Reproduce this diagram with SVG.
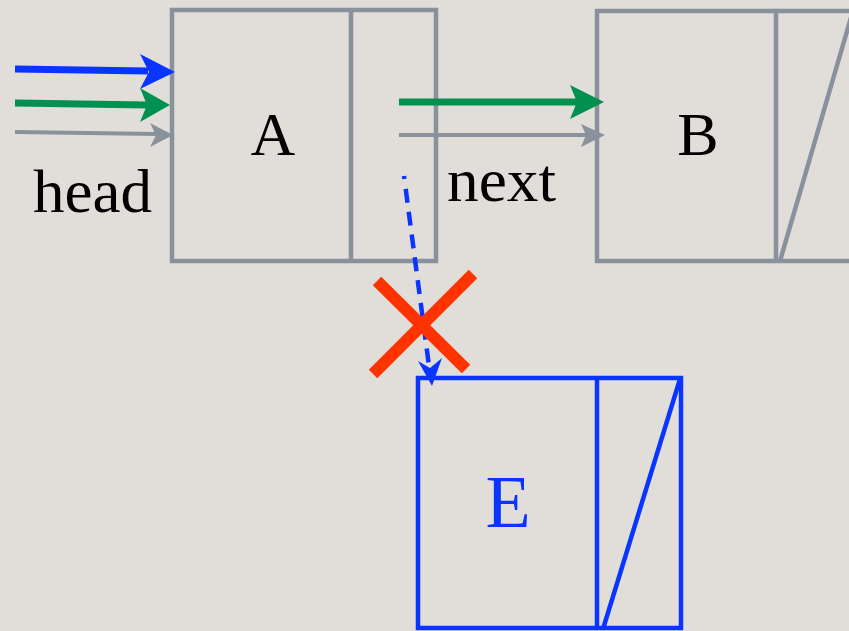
<svg xmlns="http://www.w3.org/2000/svg" width="849" height="631" viewBox="0 0 849 631">
<style>
.gbox{fill:none;stroke:#89919d;stroke-width:4.5}
.bbox{fill:none;stroke:#0a34ff;stroke-width:4.5}
.lbl{font-family:"Liberation Serif","Times New Roman",serif;fill:#000}
</style>
<rect width="849" height="631" fill="#e1ded9"/>
<g id="nodeA">
<rect class="gbox" x="172" y="10" width="264" height="251"/>
<line class="gbox" x1="351" y1="10" x2="351" y2="261"/>
<text class="lbl" x="273" y="155" font-size="62" text-anchor="middle">A</text>
</g>
<g id="nodeB">
<rect class="gbox" x="597" y="11" width="260" height="250"/>
<line class="gbox" x1="776" y1="11" x2="776" y2="261"/>
<line class="gbox" x1="780" y1="261" x2="852" y2="14"/>
<text class="lbl" x="698" y="155" font-size="62" text-anchor="middle">B</text>
</g>
<g id="nodeE">
<rect class="bbox" x="418" y="378" width="263" height="250"/>
<line class="bbox" x1="597" y1="378" x2="597" y2="628"/>
<line class="bbox" x1="603" y1="629" x2="680" y2="379"/>
<text class="lbl" x="508" y="527" font-size="74" text-anchor="middle" style="fill:#0a34ff">E</text>
</g>
<g id="labels">
<text class="lbl" x="33" y="212" font-size="62" textLength="119" lengthAdjust="spacingAndGlyphs">head</text>
<text class="lbl" x="447" y="201" font-size="62" textLength="109" lengthAdjust="spacingAndGlyphs">next</text>
</g>
<g id="connectors">
<line x1="15" y1="69" x2="148" y2="71" stroke="#0a34ff" stroke-width="7"/>
<polygon points="175,72 140,54 149,72 140,89" fill="#0a34ff"/>
<line x1="15" y1="103" x2="148" y2="105" stroke="#009150" stroke-width="7"/>
<polygon points="170,105 140,88 147,105 140,122" fill="#009150"/>
<line x1="15" y1="132" x2="158" y2="134" stroke="#89919d" stroke-width="4"/>
<polygon points="173,135 150,123 156,135 150,147" fill="#89919d"/>
<line x1="399" y1="102" x2="578" y2="102" stroke="#009150" stroke-width="7"/>
<polygon points="604,102 570,85 577,102 570,119" fill="#009150"/>
<line x1="399" y1="135" x2="588" y2="135" stroke="#89919d" stroke-width="4"/>
<polygon points="605,135 581,124 586,135 581,147" fill="#89919d"/>
<line x1="404" y1="176" x2="429" y2="366" stroke="#0a34ff" stroke-width="4.5" stroke-dasharray="3 10 14 9 14 9 14 9 14 9 14 9 14 9 14 9 14 9 14 9"/>
<polygon points="432,386 418,361 430,368 442,358" fill="#0a34ff"/>
</g>
<g id="cross" stroke="#ff3300" stroke-width="12">
<line x1="377" y1="281" x2="466" y2="369"/>
<line x1="473" y1="274" x2="373" y2="374"/>
</g>
</svg>
